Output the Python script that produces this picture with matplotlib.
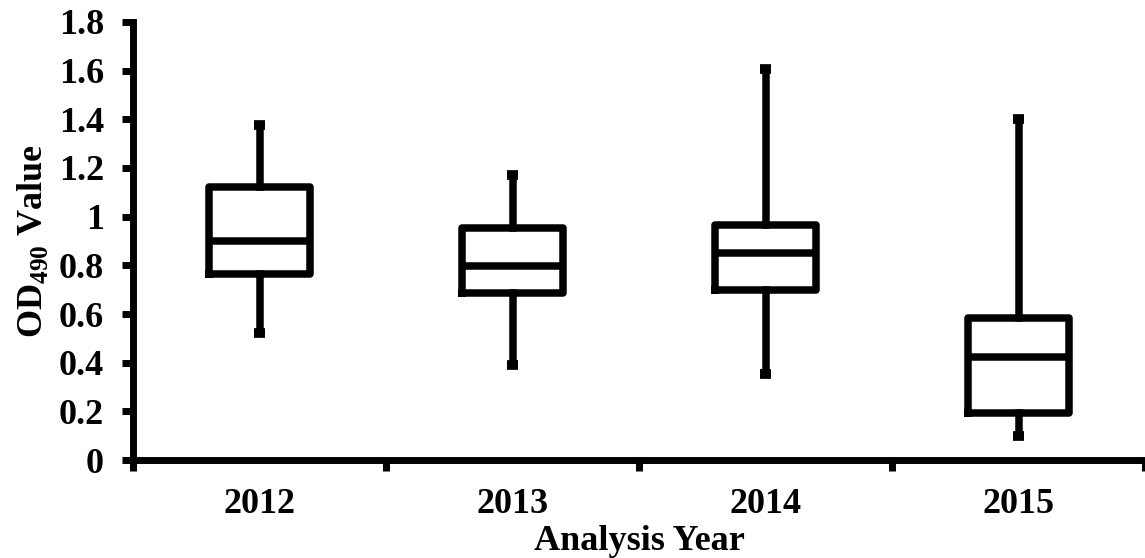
import matplotlib.pyplot as plt

years = ['2012', '2013', '2014', '2015']
whisker_low = [0.52, 0.39, 0.355, 0.10]
q1 = [0.765, 0.685, 0.70, 0.193]
median = [0.90, 0.797, 0.85, 0.423]
q3 = [1.122, 0.952, 0.965, 0.585]
whisker_high = [1.376, 1.172, 1.605, 1.40]

plt.rcParams['font.family'] = 'Liberation Serif'
plt.rcParams['font.weight'] = 'bold'
plt.rcParams['mathtext.fontset'] = 'custom'
plt.rcParams['mathtext.rm'] = 'Liberation Serif:bold'
plt.rcParams['mathtext.bf'] = 'Liberation Serif:bold'

stats = []
for i in range(len(years)):
    stats.append({'label': years[i], 'whislo': whisker_low[i], 'q1': q1[i],
                  'med': median[i], 'q3': q3[i], 'whishi': whisker_high[i],
                  'fliers': []})

fig = plt.figure(figsize=(11.45, 5.58), dpi=100)
ax = fig.add_axes([0.1162, 0.1756, 0.8838, 0.785])

lw = 5.4
ax.bxp(stats, positions=[1, 2, 3, 4], widths=0.4, showfliers=False,
       boxprops=dict(linewidth=lw, color='black', solid_joinstyle='round'),
       whiskerprops=dict(linewidth=lw, color='black'),
       medianprops=dict(linewidth=lw, color='black', solid_capstyle='butt'),
       capprops=dict(linewidth=7, color='black', solid_capstyle='butt'),
       capwidths=0.04)

ax.set_xlim(0.5, 4.5)
ax.set_ylim(0, 1.8)
ax.set_yticks([0, 0.2, 0.4, 0.6, 0.8, 1.0, 1.2, 1.4, 1.6, 1.8])
ax.set_yticklabels(['0', '0.2', '0.4', '0.6', '0.8', '1', '1.2', '1.4', '1.6', '1.8'])
ax.set_xticks([1, 2, 3, 4])
ax.set_xticklabels(years)
ax.set_xticks([0.5, 1.5, 2.5, 3.5, 4.5], minor=True)

ax.tick_params(axis='x', which='major', length=0, pad=20, labelsize=26)
ax.tick_params(axis='x', which='minor', length=8, width=5, direction='out')
ax.tick_params(axis='y', length=8, width=5, direction='out', pad=13, labelsize=26)

for s in ['top', 'right']:
    ax.spines[s].set_visible(False)
for s in ['left', 'bottom']:
    ax.spines[s].set_linewidth(5)

ax.set_xlabel('Analysis Year', fontsize=26, fontweight='bold', labelpad=3)
ax.set_ylabel(r'OD$_\mathregular{490}$ Value', fontsize=26, fontweight='bold', labelpad=6)

fig.savefig('out.png', dpi=100)
